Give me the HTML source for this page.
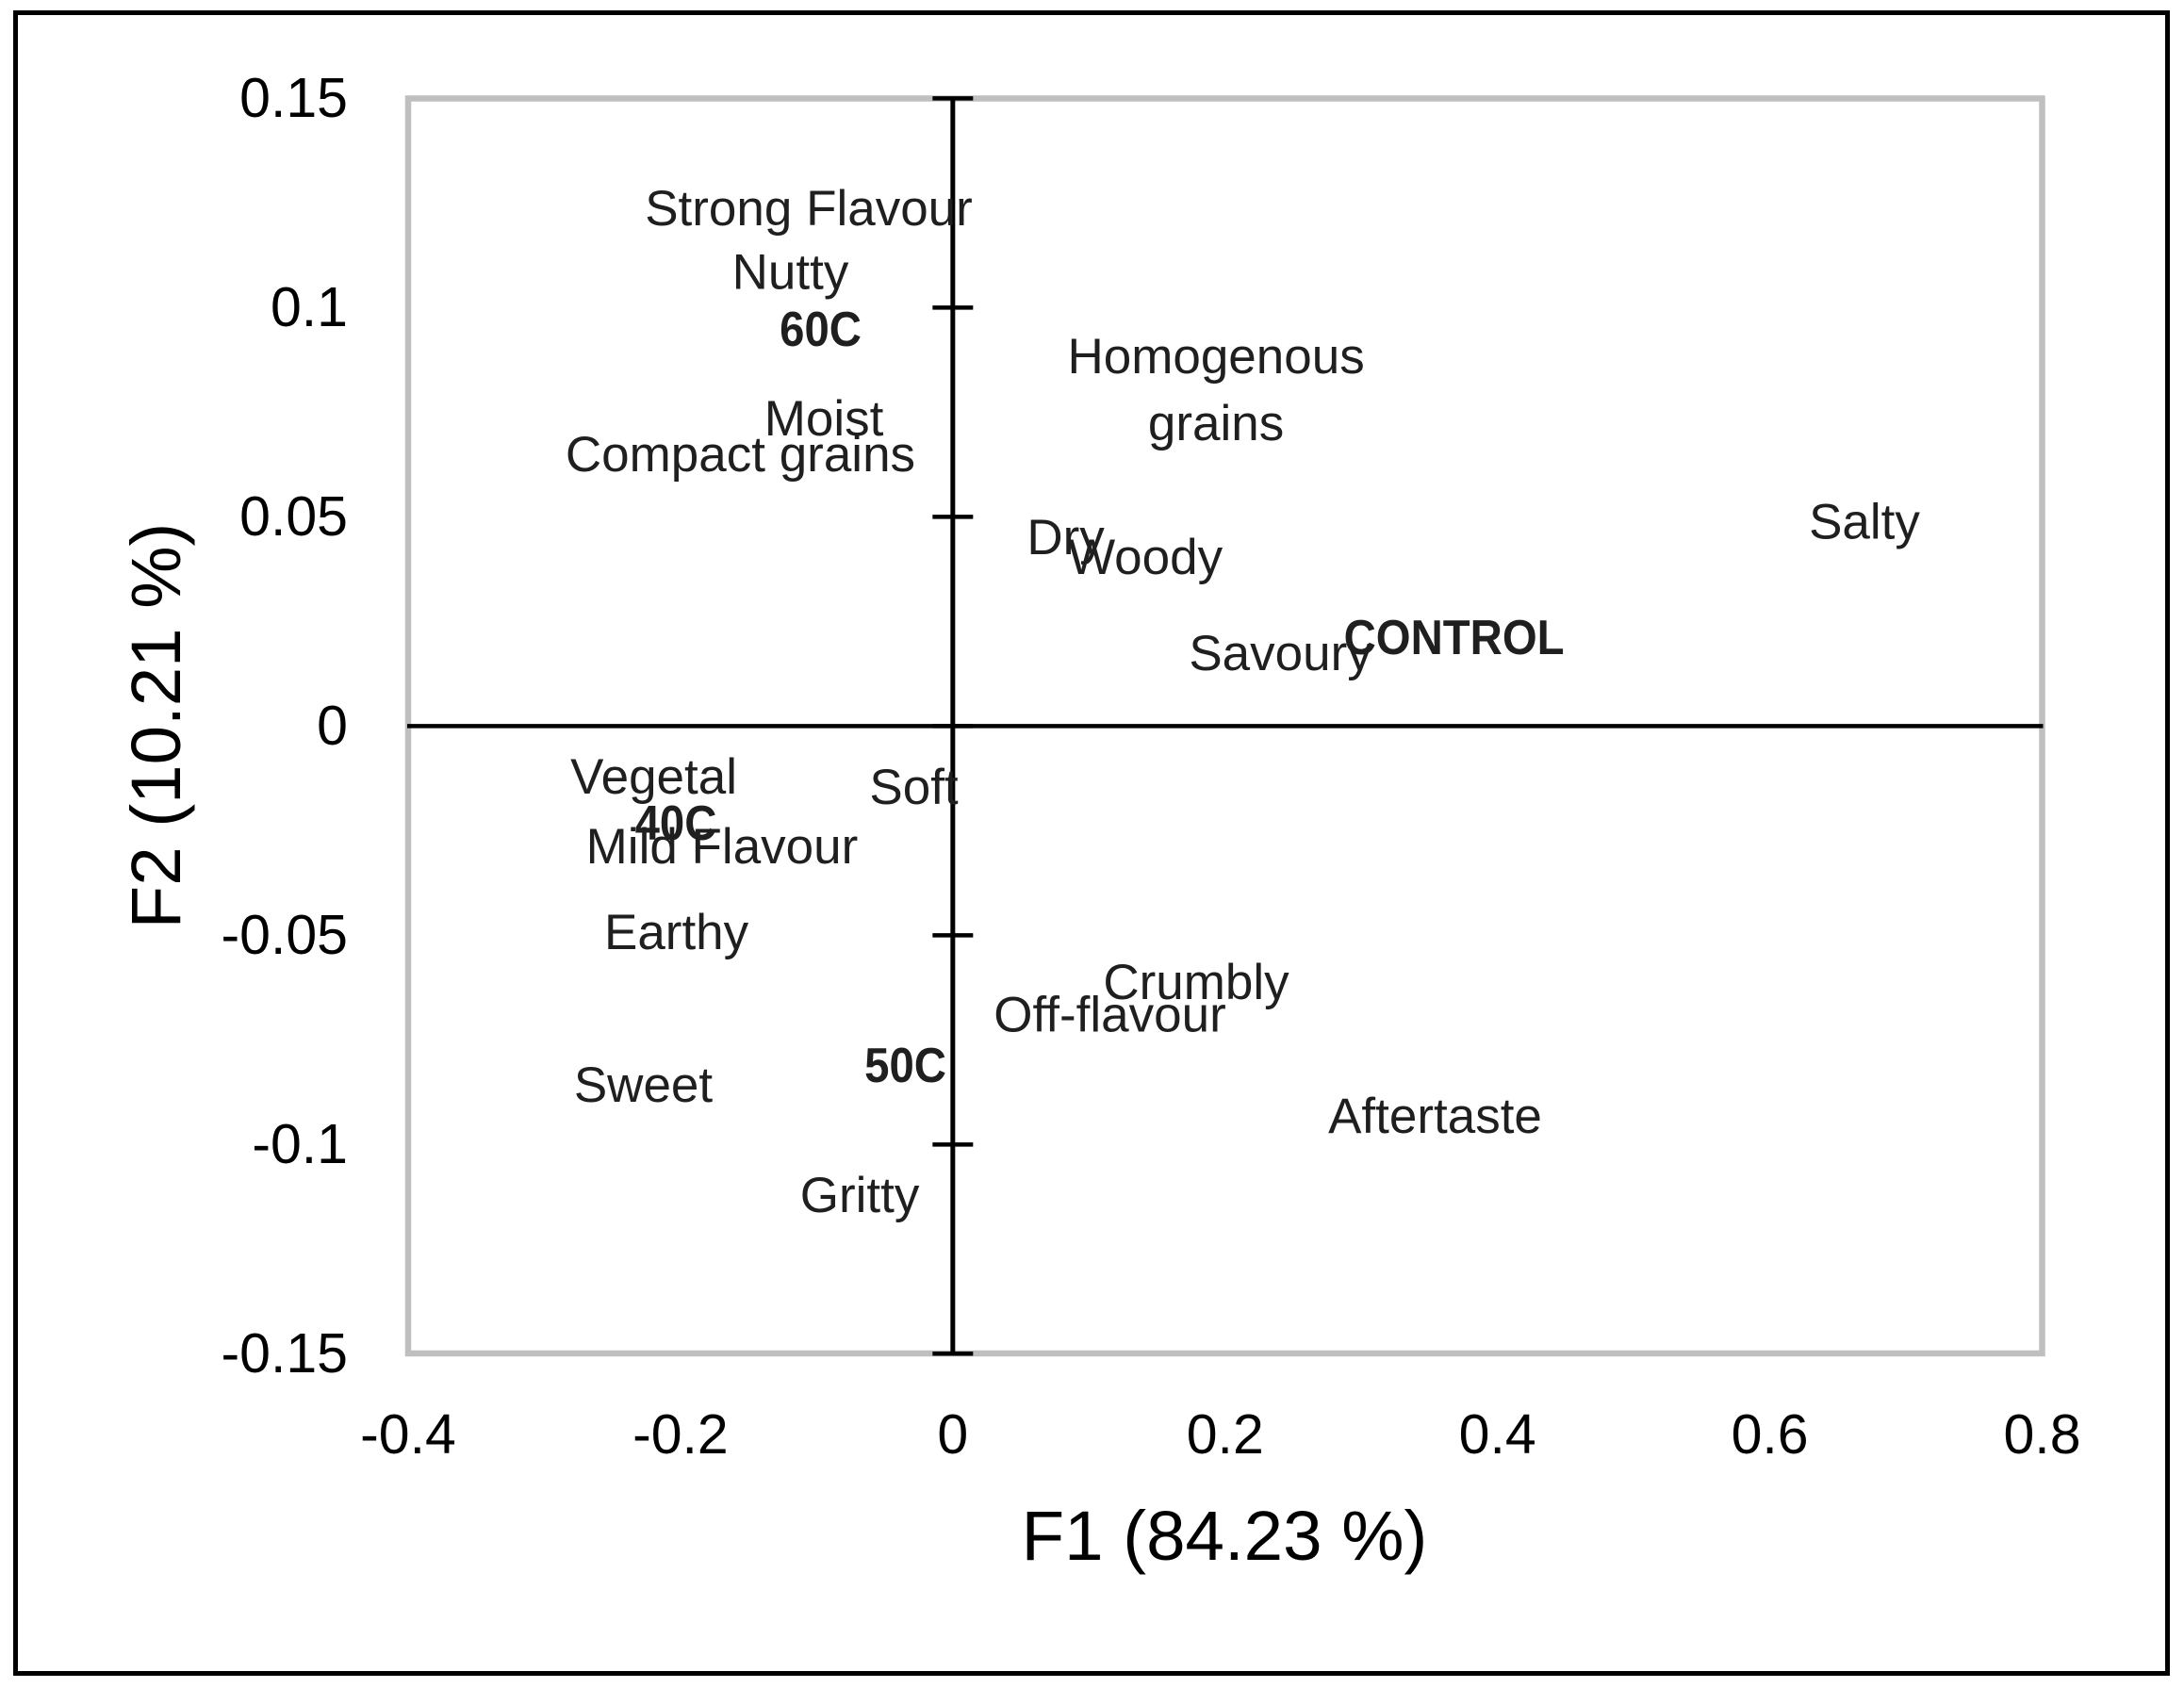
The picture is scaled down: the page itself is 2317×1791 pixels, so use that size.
<!DOCTYPE html>
<html lang="en">
<head>
<meta charset="utf-8">
<title>F1 vs F2 sensory map</title>
<style>
html,body{margin:0;padding:0;background:#fff;width:2317px;height:1791px;overflow:hidden}
svg{display:block}
text{font-family:"Liberation Sans",sans-serif}
</style>
</head>
<body>
<svg id="chart" xmlns="http://www.w3.org/2000/svg" width="2317" height="1791" viewBox="0 0 2317 1791">
  <rect x="0" y="0" width="2317" height="1791" fill="#ffffff"/>
  <rect x="16.5" y="13.5" width="2283" height="1762" fill="none" stroke="#000000" stroke-width="5"/>
  <rect x="433" y="104.5" width="1733.5" height="1331.5" fill="none" stroke="#bfbfbf" stroke-width="6.5"/>
  <g id="axes"></g>
  <g id="tick-labels"></g>
  <g id="points"></g>
  <text x="1299" y="1655" font-size="74.5" text-anchor="middle" fill="#000000">F1 (84.23 %)</text>
  <text transform="translate(191 770) rotate(-90)" font-size="74.5" text-anchor="middle" fill="#000000">F2 (10.21 %)</text>
</svg>
<script>
const xTicks = [-0.4, -0.2, 0, 0.2, 0.4, 0.6, 0.8];
const xTickLabels = ["-0.4", "-0.2", "0", "0.2", "0.4", "0.6", "0.8"];
const yTicks = [0.15, 0.1, 0.05, 0, -0.05, -0.1, -0.15];
const yTickLabels = ["0.15", "0.1", "0.05", "0", "-0.05", "-0.1", "-0.15"];

const attributeLabels = ["Strong Flavour", "Nutty", "Moist", "Compact grains", "Homogenous\ngrains", "Dry", "Woody", "Savoury", "Salty", "Vegetal", "Soft", "Mild Flavour", "Earthy", "Sweet", "Gritty", "Crumbly", "Off-flavour", "Aftertaste"];
const attributeF1 = [-0.1058, -0.1193, -0.0947, -0.1560, 0.1933, 0.0829, 0.1414, 0.2407, 0.6695, -0.2196, -0.0286, -0.1695, -0.2030, -0.2273, -0.0684, 0.1787, 0.1154, 0.3542];
const attributeF2 = [0.1237, 0.1085, 0.0735, 0.0649, 0.0804, 0.0451, 0.0404, 0.0174, 0.0489, -0.0121, -0.0146, -0.0288, -0.0493, -0.0857, -0.1121, -0.0612, -0.0690, -0.0932];

const treatmentLabels = ["60C", "CONTROL", "40C", "50C"];
const treatmentF1 = [-0.0971, 0.3681, -0.2034, -0.0348];
const treatmentF2 = [0.0949, 0.0212, -0.0231, -0.0810];

const NS = "http://www.w3.org/2000/svg";
const plot = { left: 433, right: 2166.5, top: 104.4, bottom: 1436.3 };
const xMin = -0.4, xMax = 0.8, yMin = -0.15, yMax = 0.15;

function xScale(v) { return plot.left + (v - xMin) / (xMax - xMin) * (plot.right - plot.left); }
function yScale(v) { return plot.bottom - (v - yMin) / (yMax - yMin) * (plot.bottom - plot.top); }

function slug(s) { return s.toLowerCase().replace(/[^a-z0-9]+/g, '-').replace(/^-|-$/g, ''); }

function makeLine(parent, x1, y1, x2, y2, w) {
  const el = document.createElementNS(NS, 'line');
  el.setAttribute('x1', x1);
  el.setAttribute('y1', y1);
  el.setAttribute('x2', x2);
  el.setAttribute('y2', y2);
  el.setAttribute('stroke', '#000000');
  el.setAttribute('stroke-width', w);
  parent.appendChild(el);
  return el;
}

function makeText(parent, str, x, y, size, anchor, fill, weight) {
  const el = document.createElementNS(NS, 'text');
  el.setAttribute('x', x);
  el.setAttribute('y', y);
  el.setAttribute('font-size', size);
  el.setAttribute('text-anchor', anchor);
  el.setAttribute('fill', fill);
  if (weight) el.setAttribute('font-weight', weight);
  el.textContent = str;
  parent.appendChild(el);
  return el;
}

function squeeze(el, k) {
  el.setAttribute('textLength', (el.getComputedTextLength() * k).toFixed(1));
  el.setAttribute('lengthAdjust', 'spacingAndGlyphs');
}

const axes = document.getElementById('axes');
const tickLabels = document.getElementById('tick-labels');
const points = document.getElementById('points');

const hAxis = makeLine(axes, plot.left - 1, yScale(0), plot.right + 1, yScale(0), 4.5);



const vAxis = makeLine(axes, xScale(0), plot.top, xScale(0), plot.bottom, 5);



yTicks.forEach(function (v, i) {
  const tick = makeLine(axes, xScale(0) - 21.5, yScale(v), xScale(0) + 21.5, yScale(v), 4.5);
  
  
  const lab = makeText(tickLabels, yTickLabels[i], 369, yScale(v) + 19.7, 59, 'end', '#000000');
  
  
});

xTicks.forEach(function (v, i) {
  const lab = makeText(tickLabels, xTickLabels[i], xScale(v), 1542, 59, 'middle', '#000000');
  
  
});

attributeLabels.forEach(function (name, i) {
  const parts = name.split('\n');
  const cx = xScale(attributeF1[i]);
  const cy = yScale(attributeF2[i]);
  if (parts.length === 1) {
    const lab = makeText(points, name, cx, cy + 18, 53, 'middle', '#1f1f1f');
    
    
  } else {
    const lab = makeText(points, '', cx, cy, 53, 'middle', '#1f1f1f');
    
    
    parts.forEach(function (part, j) {
      const span = document.createElementNS(NS, 'tspan');
      span.setAttribute('x', cx);
      span.setAttribute('y', cy + 18 + (j - (parts.length - 1) / 2) * 71);
      span.textContent = part;
      lab.appendChild(span);
    });
  }
});

treatmentLabels.forEach(function (name, i) {
  const lab = makeText(points, name, xScale(treatmentF1[i]), yScale(treatmentF2[i]) + 18, 52, 'middle', '#1f1f1f', 'bold');
  
  
  squeeze(lab, 0.91);
});
</script>
</body>
</html>
